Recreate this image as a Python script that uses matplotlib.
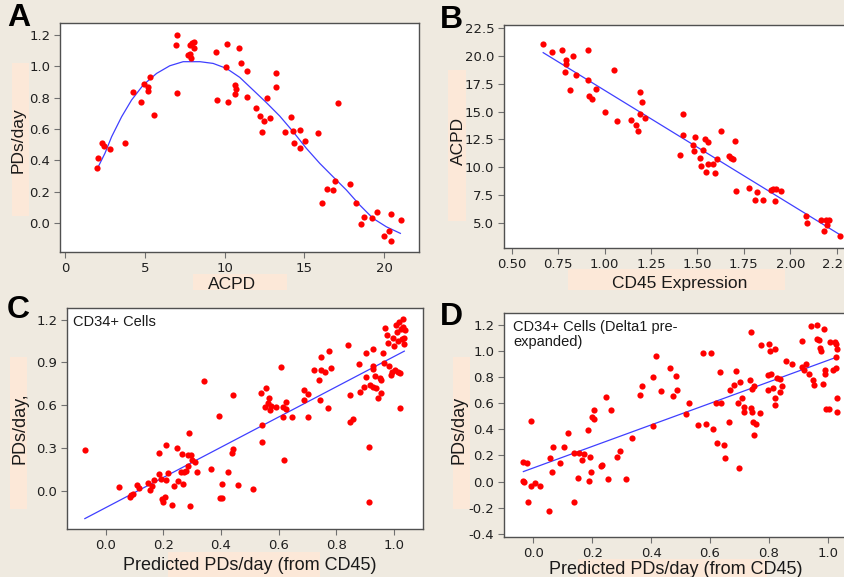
import matplotlib
matplotlib.use("Agg")
import matplotlib.pyplot as plt
from matplotlib.patches import Rectangle

# panel A: ACPD vs PDs/day with curved fit
a_x = [1.99, 2.03, 2.30, 2.45, 2.80, 3.74, 4.22, 4.76, 4.97, 5.18, 5.18, 5.29, 5.56,
       6.96, 7.04, 7.00, 7.71, 7.82, 7.86, 7.82, 7.98, 8.11, 8.07, 9.43, 9.53, 10.11,
       10.16, 10.24, 10.68, 10.70, 10.66, 10.91, 11.01, 11.41, 11.43, 11.95, 12.20,
       12.37, 12.46, 12.69, 12.83, 13.25, 13.25, 13.81, 14.15, 14.27, 14.34, 14.73,
       14.73, 15.03, 15.88, 16.13, 16.43, 16.80, 16.95, 17.10, 17.87, 18.27, 18.56,
       18.77, 19.23, 19.56, 19.98, 20.31, 20.42, 20.44, 21.07]
a_y = [0.353, 0.417, 0.509, 0.494, 0.472, 0.513, 0.834, 0.770, 0.889, 0.866, 0.845,
       0.930, 0.687, 1.134, 1.202, 0.830, 1.072, 1.079, 1.051, 1.136, 1.147, 1.153,
       1.119, 1.089, 0.785, 0.998, 1.145, 0.772, 0.881, 0.853, 0.826, 1.115, 1.023,
       0.970, 0.804, 0.732, 0.683, 0.579, 0.649, 0.800, 0.672, 0.960, 0.868, 0.583,
       0.674, 0.587, 0.513, 0.591, 0.479, 0.523, 0.577, 0.130, 0.217, 0.213, 0.268,
       0.766, 0.251, 0.126, -0.006, 0.036, 0.032, 0.072, -0.085, -0.053, -0.113,
       0.057, 0.021]
a_fit_x = [2.05, 2.49, 2.91, 3.54, 4.16, 4.89, 5.73, 6.56, 7.40, 8.45, 9.28, 10.12,
           10.95, 11.79, 12.63, 13.46, 14.30, 15.13, 15.97, 16.80, 17.64, 18.48,
           19.31, 20.15, 21.03]
a_fit_y = [0.355, 0.445, 0.551, 0.679, 0.785, 0.881, 0.955, 1.004, 1.030, 1.030,
           1.019, 0.987, 0.930, 0.849, 0.768, 0.683, 0.583, 0.477, 0.381, 0.296,
           0.211, 0.115, 0.030, -0.024, -0.066]

# panel B: CD45 expression vs ACPD
b_x = [0.670, 0.715, 0.772, 0.830, 0.794, 0.794, 0.785, 0.846, 0.812, 0.911, 0.913,
       0.917, 0.933, 0.955, 1.000, 1.052, 1.068, 1.140, 1.167, 1.180, 1.193, 1.200,
       1.189, 1.218, 1.409, 1.422, 1.422, 1.474, 1.481, 1.487, 1.516, 1.521, 1.528,
       1.541, 1.559, 1.548, 1.559, 1.582, 1.593, 1.607, 1.627, 1.669, 1.680, 1.690,
       1.705, 1.710, 1.780, 1.812, 1.823, 1.852, 1.896, 1.907, 1.916, 1.923, 1.948,
       2.085, 2.091, 2.163, 2.181, 2.190, 2.197, 2.206, 2.268]
b_y = [21.06, 20.37, 20.52, 20.01, 19.62, 19.26, 18.57, 18.30, 16.99, 20.52, 17.89,
       16.39, 16.15, 17.05, 15.01, 18.78, 14.20, 14.26, 13.84, 13.30, 16.81, 15.91,
       14.83, 14.44, 11.05, 14.77, 12.88, 11.98, 11.44, 12.70, 10.78, 10.12, 11.53,
       12.52, 12.22, 9.58, 10.27, 10.27, 9.46, 10.69, 13.27, 10.99, 10.81, 10.69,
       12.37, 7.88, 8.09, 7.01, 7.76, 7.07, 7.91, 8.00, 6.98, 8.03, 7.88, 5.57, 5.00,
       5.21, 4.25, 5.27, 4.76, 5.21, 3.77]
b_fit_x = [0.670, 2.270]
b_fit_y = [20.31, 3.89]

# panel C: CD34+ cells, predicted vs measured
c_x = [-0.072, 0.045, 0.084, 0.089, 0.095, 0.107, 0.116, 0.146, 0.155, 0.162, 0.167,
       0.186, 0.186, 0.190, 0.196, 0.200, 0.205, 0.209, 0.209, 0.217, 0.231, 0.238,
       0.246, 0.249, 0.261, 0.266, 0.267, 0.273, 0.278, 0.284, 0.287, 0.290, 0.292,
       0.296, 0.298, 0.310, 0.316, 0.341, 0.364, 0.393, 0.397, 0.405, 0.405, 0.423,
       0.443, 0.440, 0.443, 0.458, 0.510, 0.539, 0.544, 0.544, 0.556, 0.553, 0.565,
       0.568, 0.571, 0.574, 0.592, 0.608, 0.615, 0.615, 0.619, 0.625, 0.625, 0.648,
       0.687, 0.689, 0.704, 0.701, 0.722, 0.741, 0.745, 0.747, 0.748, 0.762, 0.771,
       0.776, 0.783, 0.840, 0.849, 0.849, 0.858, 0.881, 0.882, 0.896, 0.904, 0.905,
       0.916, 0.916, 0.919, 0.927, 0.928, 0.928, 0.930, 0.936, 0.938, 0.944, 0.951,
       0.956, 0.957, 0.963, 0.968, 0.971, 0.977, 0.980, 0.985, 0.991, 0.994, 0.998,
       1.000, 1.003, 1.008, 1.012, 1.014, 1.015, 1.017, 1.021, 1.023, 1.027, 1.029,
       1.031, 1.032, 1.035, 1.037, 1.038]
c_y = [0.284, 0.026, -0.045, -0.033, -0.021, 0.042, 0.021, 0.056, 0.002, 0.033, 0.073,
       0.113, 0.265, 0.078, -0.056, -0.080, -0.045, 0.319, 0.073, 0.124, -0.103, 0.033,
       0.296, 0.066, 0.131, 0.256, 0.049, 0.131, 0.139, 0.249, 0.171, 0.402, -0.110,
       0.249, 0.214, 0.202, 0.131, 0.766, 0.150, 0.524, -0.049, -0.049, 0.049, 0.131,
       0.672, 0.265, 0.289, 0.038, 0.014, 0.688, 0.460, 0.343, 0.719, 0.589, 0.613,
       0.653, 0.566, 0.594, 0.585, 0.871, 0.514, 0.589, 0.214, 0.625, 0.571, 0.519,
       0.707, 0.636, 0.676, 0.519, 0.848, 0.777, 0.636, 0.848, 0.935, 0.836, 0.578,
       0.977, 0.864, 1.019, 0.672, 0.479, 0.500, 0.890, 0.695, 0.730, 0.965, 0.796,
       0.308, -0.080, 0.742, 0.996, 0.876, 0.853, 0.730, 0.806, 0.719, 0.653, 0.789,
       0.773, 0.683, 0.965, 0.895, 1.141, 1.090, 1.036, 0.876, 0.813, 0.836, 1.071,
       1.012, 0.848, 1.165, 1.111, 0.831, 1.047, 1.184, 0.824, 0.578, 1.134, 1.066,
       1.205, 1.148, 1.029, 1.071, 1.130]
c_fit_x = [-0.073, 1.037]
c_fit_y = [-0.197, 0.979]

# panel D: CD34+ cells (Delta1 pre-expanded)
d_x = [-0.034, -0.023, -0.034, -0.031, -0.017, -0.009, -0.007, 0.006, 0.023, 0.053,
       0.057, 0.063, 0.065, 0.091, 0.104, 0.116, 0.138, 0.138, 0.155, 0.152, 0.164,
       0.173, 0.185, 0.190, 0.193, 0.195, 0.198, 0.206, 0.206, 0.230, 0.234, 0.247,
       0.253, 0.264, 0.285, 0.295, 0.314, 0.334, 0.363, 0.370, 0.406, 0.408, 0.415,
       0.432, 0.463, 0.474, 0.484, 0.489, 0.517, 0.528, 0.558, 0.575, 0.585, 0.602,
       0.610, 0.620, 0.624, 0.633, 0.638, 0.646, 0.650, 0.663, 0.669, 0.680, 0.689,
       0.695, 0.698, 0.703, 0.709, 0.714, 0.715, 0.737, 0.739, 0.739, 0.743, 0.743,
       0.745, 0.748, 0.751, 0.756, 0.769, 0.773, 0.799, 0.797, 0.797, 0.805, 0.808,
       0.813, 0.820, 0.822, 0.820, 0.828, 0.839, 0.839, 0.846, 0.858, 0.878, 0.912,
       0.913, 0.918, 0.926, 0.938, 0.944, 0.949, 0.952, 0.964, 0.964, 0.970, 0.975,
       0.978, 0.986, 0.984, 0.990, 0.992, 0.995, 1.003, 1.007, 1.018, 1.024, 1.029,
       1.029, 1.028, 1.032, 1.032, 1.032]
d_y = [0.147, 0.145, 0.005, -0.003, -0.160, -0.033, 0.462, -0.008, -0.033, -0.229,
       0.183, 0.069, 0.262, 0.140, 0.262, 0.368, -0.160, 0.221, 0.221, 0.025, 0.163,
       0.208, 0.394, 0.005, 0.185, 0.076, 0.490, 0.546, 0.475, 0.119, 0.130, 0.648,
       0.023, 0.546, 0.190, 0.234, 0.020, 0.330, 0.660, 0.729, 0.800, 0.424, 0.963,
       0.691, 0.871, 0.653, 0.810, 0.696, 0.516, 0.597, 0.434, 0.983, 0.439, 0.983,
       0.404, 0.602, 0.295, 0.836, 0.602, 0.279, 0.178, 0.452, 0.698, 0.737, 0.846,
       0.602, 0.107, 0.762, 0.637, 0.566, 0.533, 0.775, 1.143, 0.559, 0.706, 0.528,
       0.457, 0.356, 0.729, 0.439, 0.526, 1.041, 1.054, 0.813, 0.698, 0.998, 0.825,
       0.711, 0.635, 1.016, 0.584, 0.792, 0.780, 0.686, 0.731, 0.919, 0.902, 1.074,
       0.876, 0.856, 0.897, 0.818, 1.189, 0.775, 0.737, 1.194, 1.087, 1.079, 1.021,
       0.996, 1.163, 0.744, 0.851, 0.825, 0.554, 0.551, 1.067, 0.856, 1.067, 0.952,
       1.049, 0.871, 1.011, 0.635, 0.533]
d_fit_x = [-0.034, 1.032]
d_fit_y = [0.076, 0.952]

W, H = 844, 577
BG = "#efeae0"
PEACH = "#fce8d8"
RED = "#ff0000"
BLUE = "#3f3fff"

fig = plt.figure(figsize=(W / 100, H / 100), dpi=100, facecolor=BG)


def box(l, t, r, b):
    # pixel box (top-left origin) -> figure fraction rect
    return [l / W, 1 - b / H, (r - l) / W, (b - t) / H]


def peach(l, t, r, b):
    fig.patches.append(Rectangle((l / W, 1 - b / H), (r - l) / W, (b - t) / H,
                                 transform=fig.transFigure, facecolor=PEACH,
                                 edgecolor="none", zorder=-10))


def txt(x, y, s, **kw):
    fig.text(x / W, 1 - y / H, s, **kw)


def style(ax):
    ax.set_facecolor("white")
    for sp in ax.spines.values():
        sp.set_color("#505050")
        sp.set_linewidth(1.0)
    ax.tick_params(direction="out", length=4, width=0.8, color="#707070",
                   labelsize=9.5, labelcolor="#202020", pad=3)


# background label shading
peach(12, 63, 29, 216)
peach(193, 274, 287, 290)
peach(448, 70, 466, 221)
peach(568, 269, 785, 290)
peach(10, 357, 27, 509)
peach(168, 552, 320, 577)
peach(453, 357, 470, 509)
peach(578, 559, 767, 577)

axA = fig.add_axes(box(60, 23, 419, 252))
axB = fig.add_axes(box(504, 25, 846, 248))
axC = fig.add_axes(box(67, 308, 423, 529))
axD = fig.add_axes(box(504, 313, 846, 537))

for ax in (axA, axB, axC, axD):
    style(ax)

axA.scatter(a_x, a_y, s=20, color=RED, linewidths=0, zorder=3)
axA.plot(a_fit_x, a_fit_y, color=BLUE, lw=0.9, zorder=2)
axA.set_xlim(-0.33, 22.2)
axA.set_ylim(-0.185, 1.277)
axA.set_xticks([0, 5, 10, 15, 20])
axA.set_yticks([0.0, 0.2, 0.4, 0.6, 0.8, 1.0, 1.2])
axA.set_yticklabels(["0.0", "0.2", "0.4", "0.6", "0.8", "1.0", "1.2"])

axB.scatter(b_x, b_y, s=20, color=RED, linewidths=0, zorder=3)
axB.plot(b_fit_x, b_fit_y, color=BLUE, lw=0.9, zorder=2)
axB.set_xlim(0.459, 2.30)
axB.set_ylim(2.72, 22.8)
axB.set_xticks([0.5, 0.75, 1.0, 1.25, 1.5, 1.75, 2.0, 2.25])
axB.set_xticklabels(["0.50", "0.75", "1.00", "1.25", "1.50", "1.75", "2.00", "2.25"])
axB.set_yticks([5.0, 7.5, 10.0, 12.5, 15.0, 17.5, 20.0, 22.5])
axB.set_yticklabels(["5.0", "7.5", "10.0", "12.5", "15.0", "17.5", "20.0", "22.5"])

axC.scatter(c_x, c_y, s=20, color=RED, linewidths=0, zorder=3)
axC.plot(c_fit_x, c_fit_y, color=BLUE, lw=0.9, zorder=2)
axC.set_xlim(-0.135, 1.102)
axC.set_ylim(-0.270, 1.282)
axC.set_xticks([0.0, 0.2, 0.4, 0.6, 0.8, 1.0])
axC.set_xticklabels(["0.0", "0.2", "0.4", "0.6", "0.8", "1.0"])
axC.set_yticks([0.0, 0.3, 0.6, 0.9, 1.2])
axC.set_yticklabels(["0.0", "0.3", "0.6", "0.9", "1.2"])

axD.scatter(d_x, d_y, s=20, color=RED, linewidths=0, zorder=3)
axD.plot(d_fit_x, d_fit_y, color=BLUE, lw=0.9, zorder=2)
axD.set_xlim(-0.0998, 1.062)
axD.set_ylim(-0.424, 1.288)
axD.set_xticks([0.0, 0.2, 0.4, 0.6, 0.8, 1.0])
axD.set_xticklabels(["0.0", "0.2", "0.4", "0.6", "0.8", "1.0"])
axD.set_yticks([-0.4, -0.2, 0.0, 0.2, 0.4, 0.6, 0.8, 1.0, 1.2])
axD.set_yticklabels(["-0.4", "-0.2", "0.0", "0.2", "0.4", "0.6", "0.8", "1.0", "1.2"])

lab = dict(family="Liberation Sans", color="#1a1a1a")
# axis labels
txt(18, 140, "PDs/day", rotation=90, ha="center", va="center", fontsize=12.5, **lab)
txt(232, 284, "ACPD", ha="center", va="center", fontsize=12.5, **lab)
txt(458, 141, "ACPD", rotation=90, ha="center", va="center", fontsize=12.5, **lab)
txt(680, 283, "CD45 Expression", ha="center", va="center", fontsize=12.5, **lab)
txt(20, 428, "PDs/day,", rotation=90, ha="center", va="center", fontsize=13, **lab)
txt(250, 566, "Predicted PDs/day (from CD45)", ha="center", va="center", fontsize=13, **lab)
txt(459, 430, "PDs/day", rotation=90, ha="center", va="center", fontsize=13, **lab)
txt(676, 569, "Predicted PDs/day (from CD45)", ha="center", va="center", fontsize=13, **lab)

# in-plot annotations
txt(73, 315, "CD34+ Cells", ha="left", va="top", fontsize=10.5, **lab)
txt(513, 320, "CD34+ Cells (Delta1 pre-\nexpanded)", ha="left", va="top",
    fontsize=10.5, linespacing=1.1, **lab)

# panel letters
letter = dict(family="Liberation Sans", fontweight="bold", fontsize=23, color="black",
              ha="left", va="baseline")
txt(7, 26, "A", **letter)
txt(440, 28, "B", **letter)
txt(7, 318, "C", **letter)
txt(440, 325, "D", **letter)

fig.savefig("out.png", dpi=100, facecolor=BG)
